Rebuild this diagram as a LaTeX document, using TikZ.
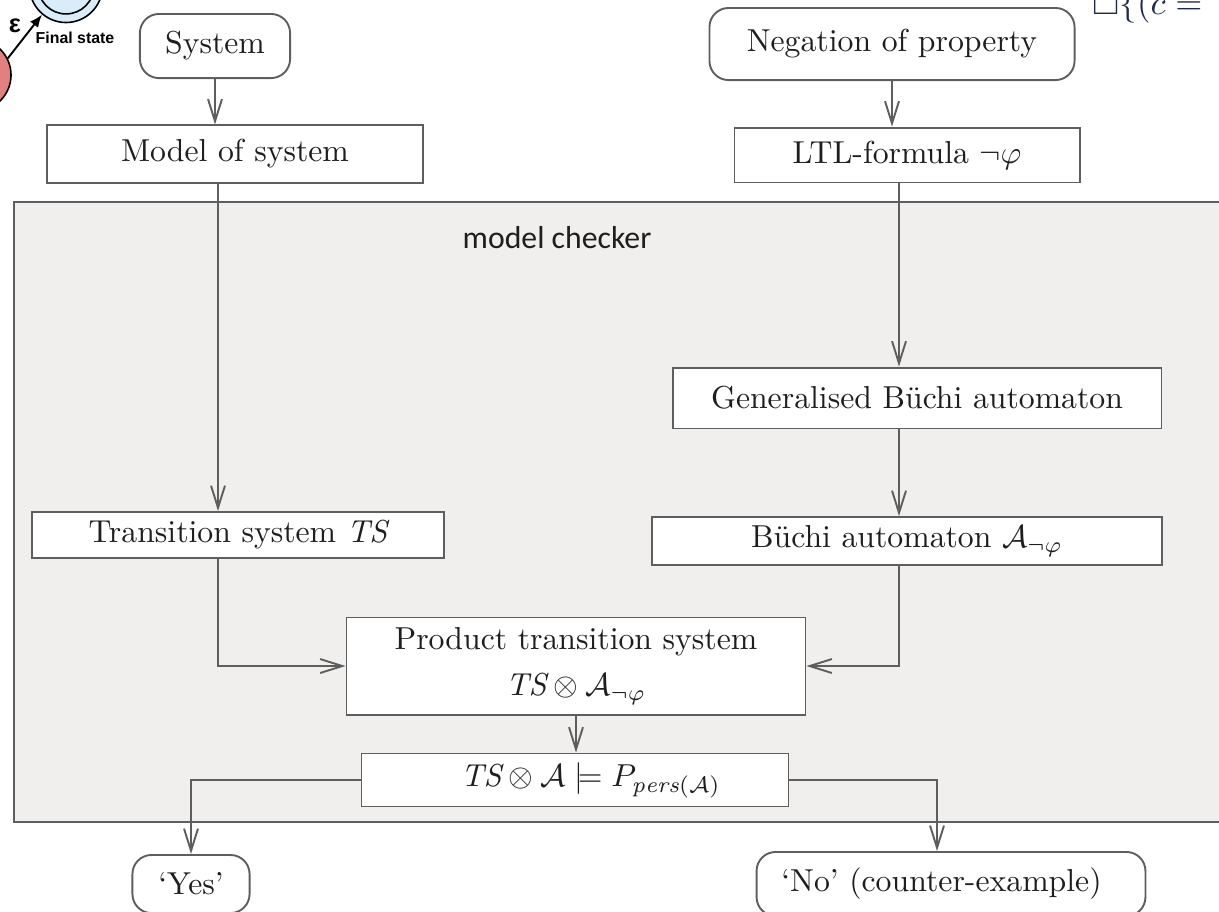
\documentclass[tikz,border=0pt]{standalone}
\usepackage{amssymb}
\usepackage{fontspec}
\newfontfamily\labelsans{Carlito}
\newfontfamily\figsans{Liberation Sans}
\usetikzlibrary{arrows.meta}

\definecolor{edge}{HTML}{5E5E5E}
\definecolor{mcfill}{HTML}{F0EFEE}
\definecolor{ink}{HTML}{1E1E1E}
\definecolor{finalblue}{HTML}{D8ECFA}
\definecolor{startred}{HTML}{E27F7F}
\definecolor{formulaink}{HTML}{1F2A4A}

\tikzset{
  flowbox/.style={draw=edge, fill=white, line width=0.6pt, inner sep=0pt, text=ink},
  termbox/.style={flowbox, rounded corners=6pt},
  flowarrow/.style={draw=edge, line width=0.6pt, -{Straight Barb[length=7pt,width=4.4pt]}},
  container/.style={draw=edge, fill=mcfill, line width=0.9pt, inner sep=0pt},
  statecirc/.style={draw=black, circle, line width=0.5pt, inner sep=0pt},
}

\begin{document}
\begin{tikzpicture}[x=0.315pt, y=-0.315pt]
\useasboundingbox (0,0) rectangle (1219,911);
\clip (0,0) rectangle (1219,911);

% automaton fragment in the upper left corner
\node[statecirc, fill=startred, minimum size=22.7pt] (q0) at (-25,75) {};
\node[statecirc, fill=finalblue, minimum size=23pt] (qf) at (66,-14) {};
\node[statecirc, fill=finalblue, minimum size=17.6pt] (qfin) at (66,-14) {};
\draw[line width=0.6pt, -{Latex[length=4pt,width=3.2pt]}] (q0.27) -- (qf.230);
\node[font=\figsans\bfseries\fontsize{8}{9}\selectfont] (eps) at (15,26) {ε};
\node[font=\figsans\bfseries\fontsize{5}{6}\selectfont] (finlabel) at (75,38) {Final state};

% formula fragment in the upper right corner
\node[anchor=base west, inner sep=0pt, text=formulaink, font=\fontsize{11}{13}\selectfont] (frag) at (1092,14) {$\square\{(c =$};

% model checker area
\node[container, minimum width=386.2pt, minimum height=195.3pt] (mc) at (627,512) {};
\node[font=\labelsans, text=ink] (mclabel) at (557,238) {model checker};

% boxes
\node[termbox, minimum width=47.3pt, minimum height=20.2pt] (sys) at (215,46) {System};
\node[termbox, minimum width=115pt, minimum height=22.7pt] (neg) at (892,44) {Negation of property};
\node[flowbox, minimum width=118.4pt, minimum height=18pt] (model) at (235,154) {Model of system};
\node[flowbox, minimum width=108.7pt, minimum height=17.3pt] (ltl) at (907,155) {LTL-formula $\neg\varphi$};
\node[flowbox, minimum width=154pt, minimum height=19.2pt] (gba) at (917,398) {Generalised B\"uchi automaton};
\node[flowbox, minimum width=160.7pt, minimum height=15.1pt] (ba) at (907,541) {B\"uchi automaton $\mathcal{A}_{\neg\varphi}$};
\node[flowbox, minimum width=129.8pt, minimum height=14.5pt] (ts) at (238,535) {Transition system $\mathit{TS}$};
\node[flowbox, minimum width=144.6pt, minimum height=30.6pt, align=center] (prod) at (576,666)
  {Product transition system\\[2.5pt] $\mathit{TS}\otimes\mathcal{A}_{\neg\varphi}$};
\node[flowbox, minimum width=134.5pt, minimum height=16.7pt] (check) at (575,780)
  {\hspace*{10pt}$\mathit{TS}\otimes\mathcal{A}\models P_{\mathit{pers}(\mathcal{A})}$};
\node[termbox, minimum width=36.9pt, minimum height=18.3pt] (yes) at (191,884) {`Yes'};
\node[termbox, minimum width=122.5pt, minimum height=20.2pt] (no) at (951,884) {`No' (counter-example)\hspace*{6pt}};

% columns of the vertical connectors
\coordinate (lx) at (218,0);
\coordinate (rx) at (899,0);
\coordinate (nx) at (937,0);

% connectors
\draw[flowarrow] (sys.south) -- (sys.south |- model.north);
\draw[flowarrow] (neg.south) -- (neg.south |- ltl.north);
\draw[flowarrow] (model.south -| lx) -- (ts.north -| lx);
\draw[flowarrow] (ltl.south -| rx) -- (gba.north -| rx);
\draw[flowarrow] (gba.south -| rx) -- (ba.north -| rx);
\draw[flowarrow] (ts.south -| lx) |- (prod.west);
\draw[flowarrow] (ba.south -| rx) |- (prod.east);
\draw[flowarrow] (prod.south) -- (prod.south |- check.north);
\draw[flowarrow] (check.west) -| (yes.north);
\draw[flowarrow] (check.east) -| (nx |- no.north);
\end{tikzpicture}
\end{document}
